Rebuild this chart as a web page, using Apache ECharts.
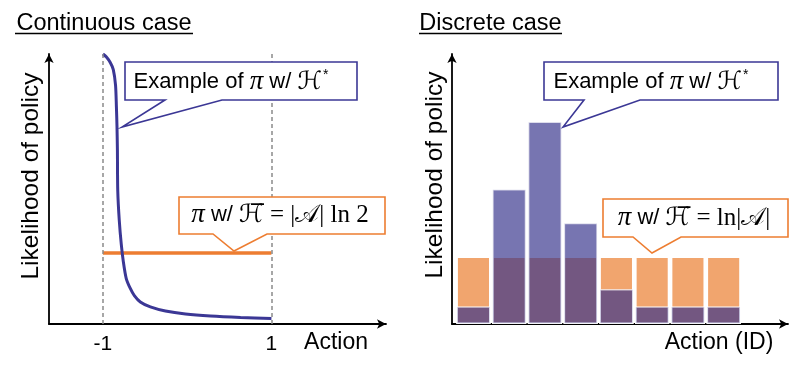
<!DOCTYPE html>
<html>
<head>
<meta charset="utf-8">
<script src="https://cdn.jsdelivr.net/npm/echarts@6/dist/echarts.min.js"></script>
<style>html,body{margin:0;padding:0;background:#fff}#c{width:797px;height:371px}</style>
</head>
<body>
<div id="c"></div>
<script>
// ---- data ----
// Continuous case: example policy density over action in [-1, 1]
const curveX = [-1, -0.961, -0.913, -0.877, -0.85, -0.84, -0.833, -0.828, -0.824, -0.806, -0.782, -0.758, -0.723, -0.675, -0.627, -0.556, -0.437, -0.258, -0.02, 0.277, 0.634, 1.0];
const curveY = [1.90, 1.88, 1.84, 1.79, 1.68, 1.53, 1.39, 1.22, 0.94, 0.73, 0.56, 0.44, 0.32, 0.25, 0.20, 0.155, 0.12, 0.091, 0.070, 0.056, 0.046, 0.039];
// Uniform policy (max entropy) density
const uniformX = [-1, 1];
const uniformY = [0.5, 0.5];
const contTicks = [-1, 1];
// Discrete case: 8 actions
const actionIds = [1, 2, 3, 4, 5, 6, 7, 8];
const uniformProb = [0.125, 0.125, 0.125, 0.125, 0.125, 0.125, 0.125, 0.125];
const examplProb = [0.033, 0.25, 0.375, 0.1875, 0.065, 0.033, 0.033, 0.033];

const SANS = "'Liberation Sans', Arial, Helvetica, sans-serif";
const SERIF = "'Liberation Serif', 'DejaVu Serif', serif";
const MATH = "'DejaVu Serif', 'DejaVu Sans', serif";
const NAVY = '#3B3795';
const ORANGE = '#ED7D31';

const chart = echarts.init(document.getElementById('c'), null, {renderer: 'canvas'});

const axisLineStyle = {show: true, onZero: false, symbol: ['none', 'arrow'], symbolSize: [7, 9], lineStyle: {color: '#000', width: 1.8}};

const richText = {
  s: {fontFamily: SANS, fontSize: 22, color: '#000'},
  m: {fontFamily: SERIF, fontStyle: 'italic', fontSize: 27, color: '#000'},
  h: {fontFamily: MATH, fontSize: 25, color: '#000'},
  r: {fontFamily: SERIF, fontSize: 25, color: '#000'},
  sup: {fontFamily: SANS, fontSize: 14, color: '#000', verticalAlign: 'top', padding: [0, 0, 8, 1]}
};

function callout(points, stroke) {
  return {type: 'polygon', shape: {points: points}, style: {fill: '#fff', stroke: stroke, lineWidth: 1.6}, z: 100};
}
function ctext(x, y, text) {
  return {type: 'text', x: x, y: y, z: 101, style: {text: text, rich: richText, align: 'center', verticalAlign: 'middle', fill: '#000'}};
}
function plainText(x, y, text, size, rot) {
  return {type: 'text', x: x, y: y, rotation: rot || 0, z: 50,
    style: {text: text, fontFamily: SANS, fontSize: size, fill: '#000', align: 'center', verticalAlign: 'middle'}};
}

const option = {
  animation: false,
  backgroundColor: '#fff',
  grid: [
    {left: 49, right: 411, top: 54, bottom: 47},
    {left: 452, right: 9, top: 54, bottom: 47}
  ],
  xAxis: [
    {type: 'value', gridIndex: 0, min: -1.64, max: 2.36, axisLine: axisLineStyle,
     axisTick: {show: false}, splitLine: {show: false},
     axisLabel: {customValues: contTicks, fontFamily: SANS, fontSize: 21, color: '#000', margin: 10}},
    {type: 'value', gridIndex: 1, min: 0.4, max: 9.8, axisLine: axisLineStyle,
     axisTick: {show: false}, splitLine: {show: false}, axisLabel: {show: false}}
  ],
  yAxis: [
    {type: 'value', gridIndex: 0, min: 0, max: 1.9, axisLine: axisLineStyle,
     axisTick: {show: false}, splitLine: {show: false}, axisLabel: {show: false}},
    {type: 'value', gridIndex: 1, min: 0, max: 0.5, axisLine: axisLineStyle,
     axisTick: {show: false}, splitLine: {show: false}, axisLabel: {show: false}}
  ],
  series: [
    {type: 'line', xAxisIndex: 0, yAxisIndex: 0, symbol: 'none', silent: true,
     data: uniformX.map((x, i) => [x, uniformY[i]]),
     lineStyle: {color: ORANGE, width: 3.5}, z: 3,
     markLine: {silent: true, symbol: 'none', label: {show: false},
       lineStyle: {color: '#8a8a8a', type: [4, 3], width: 1.5},
       data: contTicks.map(v => ({xAxis: v}))}},
    {type: 'line', xAxisIndex: 0, yAxisIndex: 0, symbol: 'none', silent: true, smooth: 0.25,
     data: curveX.map((x, i) => [x, curveY[i]]),
     lineStyle: {color: NAVY, width: 3}, z: 4},
    {type: 'bar', xAxisIndex: 1, yAxisIndex: 1, barWidth: 34.3, barGap: '-100%', silent: true,
     data: actionIds.map((x, i) => [x, uniformProb[i]]),
     itemStyle: {color: '#F1A56E', borderColor: '#fff', borderWidth: 1.6}, z: 2},
    {type: 'bar', xAxisIndex: 1, yAxisIndex: 1, barWidth: 34.3, barGap: '-100%', silent: true,
     data: actionIds.map((x, i) => [x, examplProb[i]]),
     itemStyle: {color: '#34318B', opacity: 0.67, borderColor: '#fff', borderWidth: 1.6}, z: 3}
  ],
  graphic: [
    plainText(104, 24, 'Continuous case', 23.5),
    {type: 'line', shape: {x1: 15, y1: 33.5, x2: 193, y2: 33.5}, style: {stroke: '#000', lineWidth: 1.3}},
    plainText(490.5, 24, 'Discrete case', 23.5),
    {type: 'line', shape: {x1: 419, y1: 33.5, x2: 562, y2: 33.5}, style: {stroke: '#000', lineWidth: 1.3}},
    plainText(31, 176, 'Likelihood of policy', 24.5, Math.PI / 2),
    plainText(435, 175, 'Likelihood of policy', 24.5, Math.PI / 2),
    plainText(336, 343, 'Action', 23),
    plainText(719, 343, 'Action (ID)', 23),
    callout([[125, 62], [357, 62], [357, 100], [222, 100], [122, 127], [165, 100], [125, 100]], NAVY),
    ctext(231, 82, '{s|Example of }{m|π}{s| w/ }{h|ℋ}{sup|*}'),
    callout([[179, 197], [385, 197], [385, 234], [267, 234], [234, 251], [213, 234], [179, 234]], ORANGE),
    ctext(280, 215, '{m|π}{s| w/ }{h|ℋ\u0305}{r| = |}{h|𝒜}{r|| ln 2}'),
    callout([[544, 62], [778, 62], [778, 100], [640, 100], [563, 127], [584, 100], [544, 100]], NAVY),
    ctext(651, 82, '{s|Example of }{m|π}{s| w/ }{h|ℋ}{sup|*}'),
    callout([[603, 199], [788, 199], [788, 237], [681, 237], [652, 253], [633, 237], [603, 237]], ORANGE),
    ctext(694, 218, '{m|π}{s| w/ }{h|ℋ\u0305}{r| = ln|}{h|𝒜}{r||}')
  ]
};
chart.setOption(option);
</script>
</body>
</html>
